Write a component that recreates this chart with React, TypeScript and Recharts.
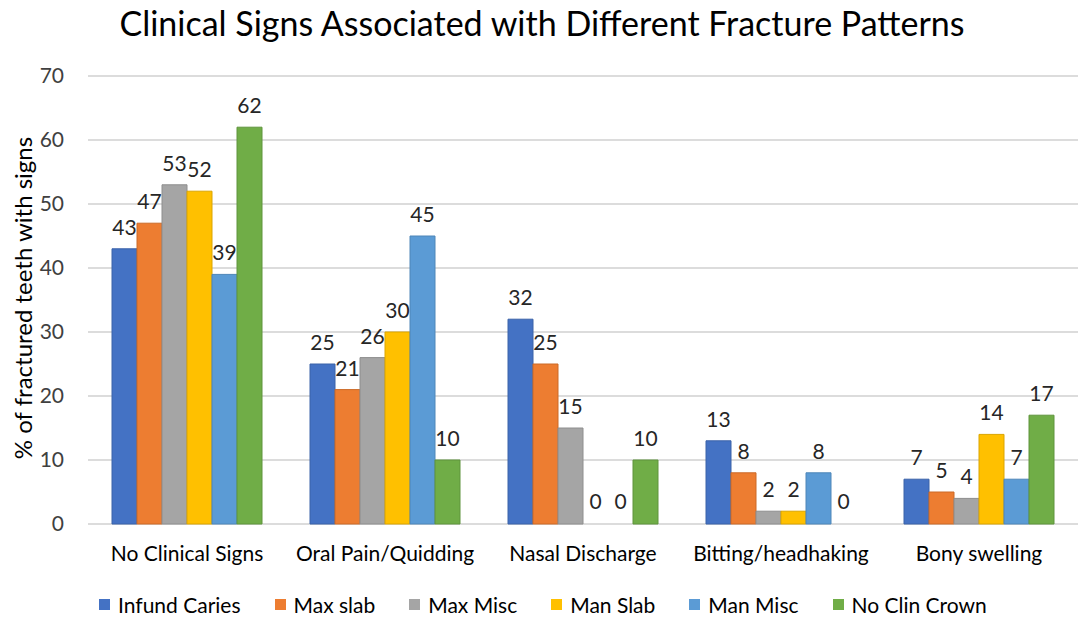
import React from 'react';
import { BarChart, Bar, XAxis, YAxis, CartesianGrid, LabelList, Cell } from 'recharts';

const categories = ['No Clinical Signs', 'Oral Pain/Quidding', 'Nasal Discharge', 'Bitting/headhaking', 'Bony swelling'];
const seriesNames = ['Infund Caries', 'Max slab', 'Max Misc', 'Man Slab', 'Man Misc', 'No Clin Crown'];
const seriesColors = ['#4472C4', '#ED7D31', '#A5A5A5', '#FFC000', '#5B9BD5', '#70AD47'];
const seriesStrokes = ['#3A62A8', '#CB6A28', '#8E8E8E', '#DBA500', '#4E86B8', '#5F943C'];
const infundCaries = [43, 25, 32, 13, 7];
const maxSlab = [47, 21, 25, 8, 5];
const maxMisc = [53, 26, 15, 2, 4];
const manSlab = [52, 30, 0, 2, 14];
const manMisc = [39, 45, 0, 8, 7];
const noClinCrown = [62, 10, 10, 0, 17];
const yTicks = [0, 10, 20, 30, 40, 50, 60, 70];

const seriesValues = [infundCaries, maxSlab, maxMisc, manSlab, manMisc, noClinCrown];
const data = categories.map((c, i) => {
  const row: Record<string, string | number> = { name: c };
  seriesNames.forEach((s, j) => {
    row['s' + j] = seriesValues[j][i];
  });
  return row;
});

const FONT = 'Lato, "Open Sans", sans-serif';

const renderLabel = (props: any) => {
  const { x, y, width, height, value } = props;
  const top = Math.min(Number(y), Number(y) + Number(height));
  return (
    <text
      x={Number(x) + Number(width) / 2}
      y={top - 14}
      textAnchor="middle"
      fontSize={21}
      fill="#262626"
      fontFamily={FONT}
    >
      {value}
    </text>
  );
};

export default function App() {
  return (
    <div style={{ position: 'absolute', left: 0, top: 0, width: 1084, height: 621, background: '#fff', fontFamily: FONT }}>
      <div style={{ position: 'absolute', left: 0, top: 2, width: 1084, textAlign: 'center', fontSize: 34, color: '#000' }}>
        Clinical Signs Associated with Different Fracture Patterns
      </div>
      <div
        style={{
          position: 'absolute',
          left: 22,
          top: 298,
          transform: 'translate(-50%, -50%) rotate(-90deg)',
          whiteSpace: 'nowrap',
          fontSize: 24,
          color: '#000',
        }}
      >
        % of fractured teeth with signs
      </div>
      <BarChart
        width={1084}
        height={621}
        data={data}
        margin={{ top: 76, right: 6, bottom: 0, left: 0 }}
        barCategoryGap={24}
        barGap={0}
      >
        <CartesianGrid vertical={false} stroke="#d0d0d0" strokeWidth={1.5} />
        <XAxis
          dataKey="name"
          axisLine={false}
          tickLine={false}
          height={97}
          tick={{ fontSize: 21, fill: '#000', fontFamily: FONT }}
          tickMargin={16}
          interval={0}
        />
        <YAxis
          domain={[0, 70]}
          ticks={yTicks}
          axisLine={false}
          tickLine={false}
          width={88}
          tick={{ fontSize: 21, fill: '#404040', fontFamily: FONT }}
          tickMargin={18}
        />
        {seriesNames.map((s, j) => (
          <Bar
            key={s}
            dataKey={'s' + j}
            name={s}
            fill={seriesColors[j]}
            stroke={seriesStrokes[j]}
            strokeWidth={1}
            minPointSize={1}
            isAnimationActive={false}
          >
            {seriesValues[j].map((v, i) => (
              <Cell
                key={i}
                fill={v === 0 ? 'transparent' : seriesColors[j]}
                stroke={v === 0 ? 'none' : seriesStrokes[j]}
              />
            ))}
            <LabelList dataKey={'s' + j} content={renderLabel} />
          </Bar>
        ))}
      </BarChart>
      <div
        style={{
          position: 'absolute',
          left: 99,
          top: 592,
          display: 'flex',
          gap: 34,
          fontSize: 21,
          color: '#000',
          whiteSpace: 'nowrap',
        }}
      >
        {seriesNames.map((s, j) => (
          <div key={s} style={{ display: 'flex', alignItems: 'center' }}>
            <span style={{ display: 'inline-block', width: 11, height: 11, background: seriesColors[j], marginRight: 8 }} />
            <span>{s}</span>
          </div>
        ))}
      </div>
    </div>
  );
}
